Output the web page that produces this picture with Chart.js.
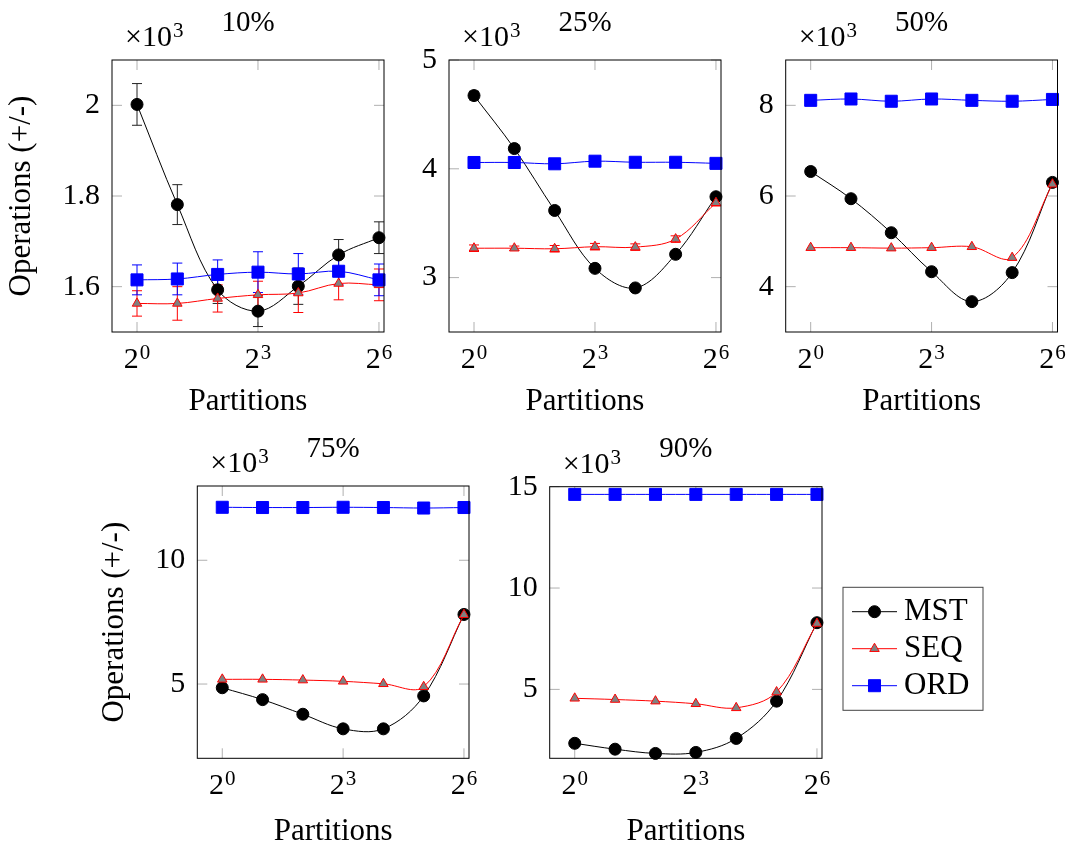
<!DOCTYPE html>
<html>
<head>
<meta charset="utf-8">
<script src="https://cdn.jsdelivr.net/npm/chart.js@4.4.0/dist/chart.umd.min.js"></script>
<style>
  html, body { margin: 0; padding: 0; background: #fff; overflow: hidden; }
  body { width: 1067px; height: 843px; position: relative; }
  canvas { position: absolute; }
</style>
</head>
<body>
<canvas id="c1"></canvas>
<canvas id="c2"></canvas>
<canvas id="c3"></canvas>
<canvas id="c4"></canvas>
<canvas id="c5"></canvas>
<script>
// x values (partitions) and tick labels 2^k
const partitions = [1, 2, 4, 8, 16, 32, 64];
const xTickValues = [1, 8, 64];
const xTickBase = '2';
const xTickExponents = ['0', '3', '6'];
const seriesNames = ['MST', 'SEQ', 'ORD'];

// 10%  (values x10^3)
const mst10 = [2.002, 1.781, 1.593, 1.546, 1.601, 1.670, 1.708];
const seq10 = [1.563, 1.563, 1.574, 1.582, 1.586, 1.607, 1.604];
const ord10 = [1.615, 1.617, 1.627, 1.632, 1.628, 1.634, 1.615];
const mst10Err = [0.046, 0.044, 0.030, 0.034, 0.040, 0.034, 0.035];
const seq10Err = [0.028, 0.037, 0.030, 0.030, 0.043, 0.036, 0.035];
const ord10Err = [0.033, 0.035, 0.032, 0.045, 0.045, 0.030, 0.035];
const yTicks10 = [1.6, 1.8, 2];

// 25%
const mst25 = [4.673, 4.186, 3.617, 3.085, 2.905, 3.214, 3.743];
const seq25 = [3.270, 3.270, 3.265, 3.284, 3.280, 3.354, 3.688];
const ord25 = [4.058, 4.058, 4.046, 4.070, 4.060, 4.060, 4.050];
const mst25Err = [0.040, 0.030, 0.030, 0.020, 0.020, 0.020, 0.030];
const seq25Err = [0.030, 0.020, 0.030, 0.030, 0.030, 0.030, 0.030];
const ord25Err = [0.030, 0.030, 0.030, 0.030, 0.030, 0.040, 0.030];
const yTicks25 = [3, 4, 5];

// 50%
const mst50 = [6.54, 5.94, 5.19, 4.33, 3.67, 4.31, 6.30];
const seq50 = [4.86, 4.86, 4.85, 4.86, 4.88, 4.64, 6.26];
const ord50 = [8.11, 8.14, 8.09, 8.14, 8.11, 8.09, 8.13];
const yTicks50 = [4, 6, 8];

// 75%
const mst75 = [4.85, 4.37, 3.78, 3.19, 3.19, 4.52, 7.81];
const seq75 = [5.19, 5.19, 5.16, 5.11, 5.01, 4.89, 7.80];
const ord75 = [12.14, 12.13, 12.13, 12.14, 12.13, 12.11, 12.13];
const yTicks75 = [5, 10];

// 90%
const mst90 = [2.34, 2.05, 1.84, 1.89, 2.58, 4.42, 8.29];
const seq90 = [4.56, 4.50, 4.42, 4.29, 4.09, 4.87, 8.25];
const ord90 = [14.62, 14.62, 14.62, 14.62, 14.62, 14.62, 14.62];
const yTicks90 = [5, 10, 15];

const serif = "'Liberation Serif', 'DejaVu Serif', serif";

// panel layout: canvas box [left, top, w, h], plot area [left, top, right, bottom]
const panels = [
  { id: 'c1', title: '10%', box: [0, 0, 400, 420], area: [112, 60, 384, 332], y: [1.5, 2.1], yTicks: yTicks10,
    data: [mst10, seq10, ord10], err: [mst10Err, seq10Err, ord10Err], yTitle: true },
  { id: 'c2', title: '25%', box: [400, 0, 340, 420], area: [449, 60, 721, 332], y: [2.5, 5], yTicks: yTicks25,
    data: [mst25, seq25, ord25], err: [mst25Err, seq25Err, ord25Err] },
  { id: 'c3', title: '50%', box: [740, 0, 327, 420], area: [785.7, 60, 1058.3, 332], y: [3, 9], yTicks: yTicks50,
    data: [mst50, seq50, ord50] },
  { id: 'c4', title: '75%', box: [93, 430, 397, 420], area: [197.3, 486, 469, 758.3], y: [2, 13], yTicks: yTicks75,
    data: [mst75, seq75, ord75], yTitle: true },
  { id: 'c5', title: '90%', box: [490, 430, 577, 420], area: [549.7, 486.7, 822, 758.3], y: [1.6, 15], yTicks: yTicks90,
    data: [mst90, seq90, ord90], legend: true }
];

const styles = [
  { borderColor: '#000', pointBackgroundColor: '#000', pointBorderColor: '#000', pointStyle: 'circle', pointRadius: 6, errorColor: '#222', order: 3 },
  { borderColor: '#ff0000', pointBackgroundColor: '#808080', pointBorderColor: '#ff0000', pointStyle: 'triangle', pointRadius: 5.5, errorColor: '#ff0000', order: 2 },
  { borderColor: '#0000ff', pointBackgroundColor: '#0000ff', pointBorderColor: '#0000ff', pointStyle: 'rect', pointRadius: 8.5, errorColor: '#0000ff', order: 1 }
];

const TICK_LEN = 10;

// text with a raised exponent, e.g. 2^3 or x10^3
function drawPower(ctx, base, exp, x, y, align) {
  ctx.font = '30px ' + serif;
  const wb = ctx.measureText(base).width;
  ctx.font = '21px ' + serif;
  const we = ctx.measureText(exp).width;
  const x0 = align === 'center' ? x - (wb + 1 + we) / 2 : x;
  ctx.textAlign = 'left';
  ctx.textBaseline = 'alphabetic';
  ctx.font = '30px ' + serif;
  ctx.fillText(base, x0, y);
  ctx.font = '21px ' + serif;
  ctx.fillText(exp, x0 + wb + 1, y - 9);
}

const panelDecor = {
  id: 'panelDecor',
  beforeDatasetsDraw(chart, args, opts) {
    const { ctx, chartArea: a, scales: { x, y } } = chart;
    ctx.save();
    // inward tick marks
    ctx.strokeStyle = '#b0b0b0';
    ctx.lineWidth = 1;
    ctx.beginPath();
    x.ticks.forEach(t => {
      const px = x.getPixelForValue(t.value);
      ctx.moveTo(px, a.top); ctx.lineTo(px, a.top + TICK_LEN);
      ctx.moveTo(px, a.bottom); ctx.lineTo(px, a.bottom - TICK_LEN);
    });
    y.ticks.forEach(t => {
      const py = y.getPixelForValue(t.value);
      ctx.moveTo(a.left, py); ctx.lineTo(a.left + TICK_LEN, py);
      ctx.moveTo(a.right, py); ctx.lineTo(a.right - TICK_LEN, py);
    });
    ctx.stroke();
    // error bars
    chart.data.datasets.forEach(ds => {
      if (!ds.errors) return;
      ctx.strokeStyle = ds.errorColor;
      ctx.lineWidth = 1;
      ctx.beginPath();
      ds.data.forEach((pt, i) => {
        const px = x.getPixelForValue(pt.x);
        const top = y.getPixelForValue(pt.y + ds.errors[i]);
        const bot = y.getPixelForValue(pt.y - ds.errors[i]);
        ctx.moveTo(px, top); ctx.lineTo(px, bot);
        ctx.moveTo(px - 5, top); ctx.lineTo(px + 5, top);
        ctx.moveTo(px - 5, bot); ctx.lineTo(px + 5, bot);
      });
      ctx.stroke();
    });
    ctx.restore();
  },
  afterDatasetsDraw(chart, args, opts) {
    const { ctx, chartArea: a, scales: { x } } = chart;
    ctx.save();
    ctx.strokeStyle = '#000';
    ctx.lineWidth = 1;
    ctx.strokeRect(a.left, a.top, a.right - a.left, a.bottom - a.top);
    ctx.fillStyle = '#000';
    // x tick labels 2^k
    x.ticks.forEach(t => {
      const i = xTickValues.indexOf(t.value);
      drawPower(ctx, xTickBase, xTickExponents[i], x.getPixelForValue(t.value), a.bottom + 36, 'center');
    });
    // title and multiplier
    ctx.textBaseline = 'middle';
    ctx.textAlign = 'center';
    ctx.font = '29px ' + serif;
    ctx.fillText(opts.title, (a.left + a.right) / 2, a.top - 37);
    drawPower(ctx, '×10', '3', a.left + 13, a.top - 14, 'left');
    // legend
    if (opts.legend) {
      const lx = a.right + 21, ly = a.top + 100.6;
      ctx.strokeStyle = '#444';
      ctx.strokeRect(lx, ly, 140, 123);
      chart.data.datasets.forEach((ds, i) => {
        const ry = ly + 24.4 + i * 37;
        ctx.strokeStyle = ds.borderColor;
        ctx.lineWidth = 1;
        ctx.beginPath();
        ctx.moveTo(lx + 9, ry); ctx.lineTo(lx + 54, ry);
        ctx.stroke();
        ctx.fillStyle = ds.pointBackgroundColor;
        ctx.strokeStyle = ds.pointBorderColor;
        Chart.helpers.drawPoint(ctx, { pointStyle: ds.pointStyle, radius: ds.pointRadius, borderWidth: 1, rotation: 0 }, lx + 31.5, ry);
        ctx.fillStyle = '#000';
        ctx.font = '31px ' + serif;
        ctx.textAlign = 'left';
        ctx.textBaseline = 'middle';
        ctx.fillText(ds.label, lx + 61, ry);
      });
    }
    ctx.restore();
  }
};

panels.forEach(p => {
  const [bl, bt, bw, bh] = p.box;
  const [al, at, ar, ab] = p.area;
  const cv = document.getElementById(p.id);
  cv.width = bw; cv.height = bh;
  cv.style.left = bl + 'px'; cv.style.top = bt + 'px';

  const datasets = p.data.map((vals, k) => Object.assign({
    label: seriesNames[k],
    data: vals.map((v, i) => ({ x: partitions[i], y: v })),
    errors: p.err ? p.err[k] : null,
    borderWidth: 1,
    pointBorderWidth: 1,
    tension: 0.35,
    fill: false,
    clip: false
  }, styles[k]));

  new Chart(cv.getContext('2d'), {
    type: 'line',
    data: { datasets },
    options: {
      responsive: false,
      animation: false,
      events: [],
      layout: { padding: { left: 0, top: at - bt, right: bl + bw - ar, bottom: 0 } },
      plugins: {
        legend: { display: false },
        tooltip: { enabled: false },
        panelDecor: { title: p.title, legend: !!p.legend }
      },
      scales: {
        x: {
          type: 'logarithmic',
          min: Math.pow(2, -0.62),
          max: Math.pow(2, 6.125),
          grid: { display: false, drawTicks: false },
          border: { display: false },
          afterBuildTicks: s => { s.ticks = xTickValues.map(v => ({ value: v })); },
          afterFit: s => { s.height = bt + bh - ab; s.paddingLeft = 0; s.paddingRight = 0; },
          ticks: { display: false, autoSkip: false },
          title: { display: true, text: 'Partitions', color: '#000', font: { family: serif, size: 31 }, padding: { top: 0, bottom: 0 } }
        },
        y: {
          min: p.y[0], max: p.y[1],
          grid: { display: false, drawTicks: false },
          border: { display: false },
          afterBuildTicks: s => { s.ticks = p.yTicks.map(v => ({ value: v })); },
          afterFit: s => { s.width = al - bl; s.paddingTop = 0; s.paddingBottom = 0; },
          ticks: { padding: 12, color: '#000', font: { family: serif, size: 30 }, callback: v => String(v) },
          title: { display: !!p.yTitle, text: 'Operations (+/-)', color: '#000', font: { family: serif, size: 31 }, padding: { top: 3.4, bottom: 0 } }
        }
      }
    },
    plugins: [panelDecor]
  });
});
</script>
</body>
</html>
